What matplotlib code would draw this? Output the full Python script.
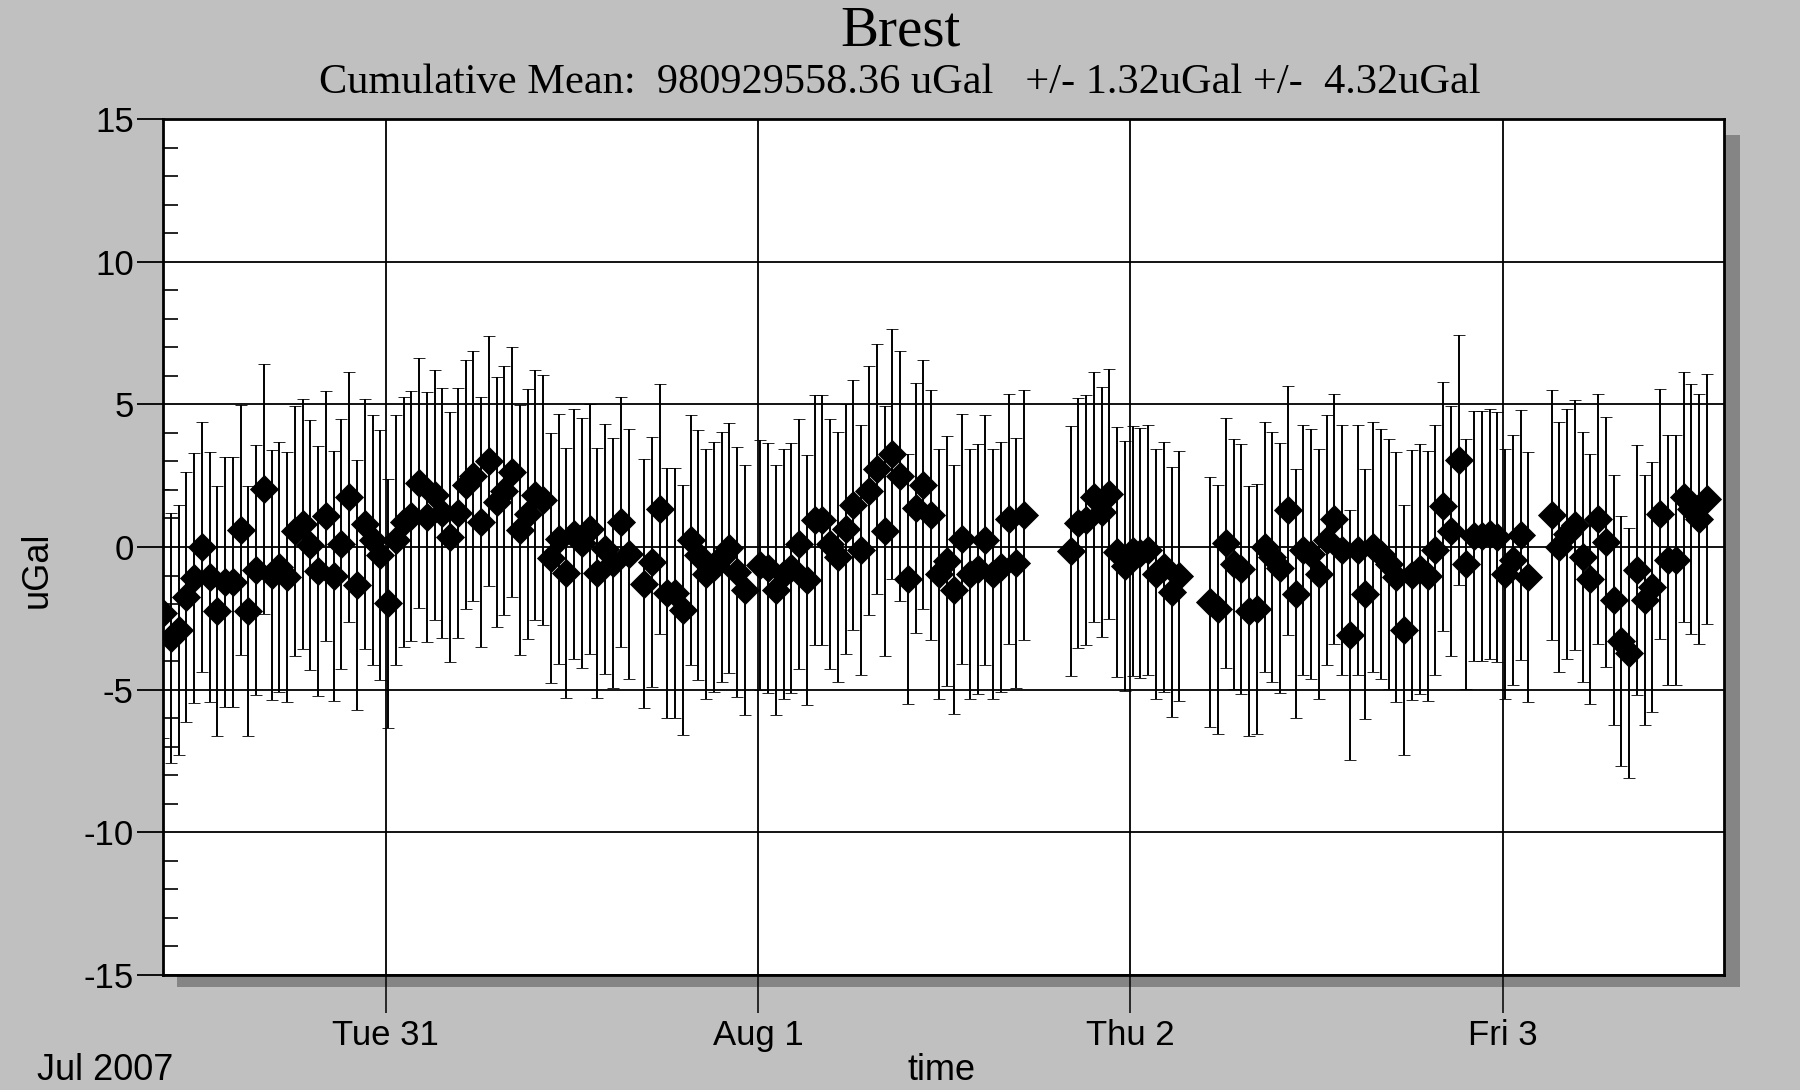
import matplotlib
matplotlib.use("Agg")
import matplotlib.pyplot as plt
from matplotlib.patches import Rectangle
from matplotlib.ticker import MultipleLocator

# ---- data: time in hours since 2007-07-30 00:00, gravity residual in uGal ----
HOURS = [
    9.65, 10.15, 10.65, 11.15, 11.65, 12.15, 12.65, 13.15, 13.65, 14.15, 14.65, 15.15,
    15.65, 16.15, 16.65, 17.15, 17.65, 18.15, 18.65, 19.15, 19.65, 20.15, 20.65, 21.15,
    21.65, 22.15, 22.65, 23.15, 23.65,
    24.15, 24.65, 25.15, 25.65, 26.15, 26.65, 27.15, 27.65, 28.15, 28.65, 29.15, 29.65,
    30.15, 30.65, 31.15, 31.65, 32.15, 32.65, 33.15, 33.65, 34.15, 34.65, 35.15, 35.65,
    36.15, 36.65, 37.15, 37.65, 38.15, 38.65, 39.15, 39.65,
    40.65, 41.15, 41.65, 42.15, 42.65, 43.15, 43.65, 44.15, 44.65, 45.15, 45.65, 46.15,
    46.65, 47.15,
    48.15, 48.65, 49.15, 49.65, 50.15, 50.65, 51.15, 51.65, 52.15, 52.65, 53.15, 53.65,
    54.15, 54.65, 55.15, 55.65, 56.15, 56.65, 57.15, 57.65, 58.15, 58.65, 59.15, 59.65,
    60.15, 60.65, 61.15, 61.65, 62.15, 62.65, 63.15, 63.65, 64.15, 64.65, 65.15,
    68.15, 68.65, 69.15, 69.65, 70.15, 70.65, 71.15, 71.65,
    72.15, 72.65, 73.15, 73.65, 74.15, 74.65, 75.15,
    77.15, 77.65, 78.15, 78.65, 79.15, 79.65, 80.15, 80.65, 81.15, 81.65, 82.15, 82.65,
    83.15, 83.65, 84.15, 84.65, 85.15, 85.65, 86.15, 86.65, 87.15, 87.65, 88.15, 88.65,
    89.15, 89.65, 90.15, 90.65, 91.15, 91.65, 92.15, 92.65, 93.15, 93.65, 94.15, 94.65,
    95.15, 95.65,
    96.15, 96.65, 97.15, 97.65,
    99.15, 99.65, 100.15, 100.65, 101.15, 101.65, 102.15, 102.65, 103.15, 103.65, 104.15,
    104.65, 105.15, 105.65, 106.15, 106.65, 107.15, 107.65, 108.15, 108.65, 109.15,
]

GRAV = [
    -2.33, -3.2, -2.9, -1.75, -1.1, 0.0, -1.05, -2.24, -1.22, -1.22, 0.6, -2.24,
    -0.8, 2.04, -0.97, -0.7, -1.05, 0.56, 0.82, 0.06, -0.84, 1.07, -1.03, 0.12,
    1.75, -1.32, 0.82, 0.23, -0.29,
    -1.98, 0.23, 0.87, 1.1, 2.24, 1.05, 1.81, 1.19, 0.35, 1.19, 2.19, 2.5,
    0.87, 3.0, 1.57, 1.98, 2.62, 0.58, 1.17, 1.81, 1.65, -0.37, 0.29, -0.91,
    0.47, 0.14, 0.64, -0.91, -0.06, -0.56, 0.87, -0.26,
    -1.28, -0.52, 1.34, -1.6, -1.6, -2.2, 0.25, -0.29, -0.96, -0.7, -0.35, -0.05,
    -0.86, -1.5,
    -0.64, -0.75, -1.5, -0.95, -0.72, 0.12, -1.17, 0.93, 0.93, 0.12, -0.35, 0.64,
    1.46, -0.12, 1.98, 2.74, 0.56, 3.26, 2.5, -1.11, 1.37, 2.19, 1.11, -0.93,
    -0.49, -1.49, 0.29, -0.96, -0.76, 0.23, -0.93, -0.7, 0.99, -0.56, 1.11,
    -0.14, 0.84, 0.93, 1.75, 1.22, 1.86, -0.17, -0.66,
    -0.14, -0.22, -0.09, -0.95, -0.7, -1.57, -1.0,
    -1.94, -2.19, 0.15, -0.58, -0.76, -2.24, -2.16, 0.0, -0.35, -0.72, 1.28, -1.63,
    -0.09, -0.23, -0.93, 0.23, 0.99, -0.12, -3.09, -0.12, -1.66, 0.0, -0.23, -0.58,
    -1.05, -2.91, -0.99, -0.76, -1.03, -0.12, 1.42, 0.56, 3.05, -0.58, 0.37, 0.37,
    0.47, 0.35,
    -0.96, -0.44, 0.41, -1.05,
    1.11, 0.0, 0.44, 0.76, -0.35, -1.11, 0.99, 0.17, -1.86, -3.29, -3.73,
    -0.82, -1.86, -1.4, 1.17, -0.44, -0.44, 1.75, 1.34, 0.99, 1.69,
]

ERR = 4.38  # half-length of each error bar (uGal)

DAY_TICKS = [24, 48, 72, 96]
DAY_LABELS = ["Tue 31", "Aug 1", "Thu 2", "Fri 3"]
Y_TICKS = [-15, -10, -5, 0, 5, 10, 15]

TITLE = "Brest"
SUBTITLE = "Cumulative Mean:  980929558.36 uGal   +/- 1.32uGal +/-  4.32uGal"

assert len(HOURS) == len(GRAV)

# ---- figure ----
W, H = 1800, 1090
fig = plt.figure(figsize=(W / 100, H / 100), dpi=100, facecolor="#c0c0c0")

# axes box in pixel coordinates (top-down)
L, R, T, B = 163, 1724, 119, 975
ax = fig.add_axes([L / W, 1 - B / H, (R - L) / W, (B - T) / H])
ax.set_zorder(2)

# drop shadow (drawn below the axes)
fig.patches.append(Rectangle((177 / W, 1 - 987 / H), (1740 - 177) / W, (987 - 135) / H,
                             transform=fig.transFigure, facecolor="#858585",
                             edgecolor="none", zorder=1))

ax.errorbar(HOURS, GRAV, yerr=ERR, fmt="D", color="black", ms=14, mew=0.6,
            ecolor="black", elinewidth=1.4, capsize=4.2, capthick=1.4, zorder=3)

ax.set_xlim(9.645, 110.26)
ax.set_ylim(-15, 15)

sans = ["Liberation Sans", "DejaVu Sans"]
serif = ["Liberation Serif", "DejaVu Serif"]

ax.set_yticks(Y_TICKS)
ax.set_yticklabels([str(v) for v in Y_TICKS], family=sans, fontsize=25)
ax.yaxis.set_minor_locator(MultipleLocator(1))
ax.set_xticks(DAY_TICKS)
ax.set_xticklabels(DAY_LABELS, family=sans, fontsize=25)

ax.tick_params(axis="y", which="major", direction="out", length=19, width=1.3, pad=2)
ax.tick_params(axis="y", which="minor", direction="in", length=11, width=1.2)
ax.tick_params(axis="x", which="major", direction="out", length=27, width=1.1, pad=5)

ax.grid(True, which="major", color="black", linewidth=1.3)
ax.set_axisbelow(True)
for s in ax.spines.values():
    s.set_linewidth(2.0)
    s.set_color("black")

fig.text(900 / W, 1 - 32 / H, TITLE, family=serif, fontsize=41, ha="center", va="center")
fig.text(900 / W, 1 - 83 / H, SUBTITLE, family=serif, fontsize=30.5, ha="center", va="center")
fig.text(37 / W, 1 - 570 / H, "uGal", family=sans, fontsize=26, rotation=90,
         ha="center", va="center")
fig.text(37 / W, 1 - 1071 / H, "Jul 2007", family=sans, fontsize=26, ha="left", va="center")
fig.text(941 / W, 1 - 1071 / H, "time", family=sans, fontsize=26, ha="center", va="center")

fig.savefig("out.png", dpi=100, facecolor=fig.get_facecolor())
